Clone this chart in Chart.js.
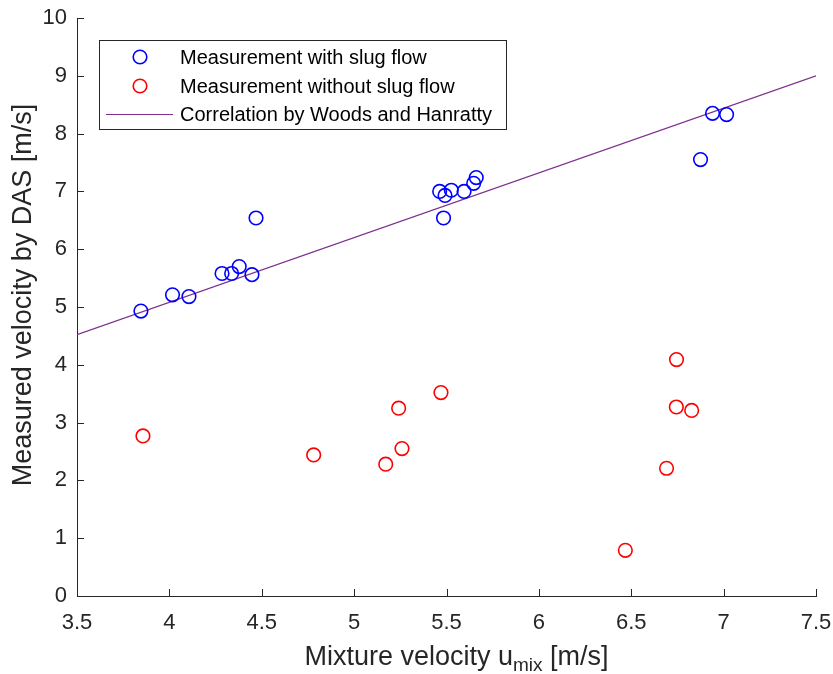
<!DOCTYPE html>
<html>
<head>
<meta charset="utf-8">
<script src="https://cdn.jsdelivr.net/npm/chart.js@4"></script>
<style>
  html, body { margin: 0; padding: 0; background: #fff; }
  #wrap { width: 833px; height: 674px; }
</style>
</head>
<body>
<div id="wrap"><canvas id="chart_velocity" width="833" height="674"></canvas></div>
<script>
// measurements with slug flow
const slugX = [3.846, 4.017, 4.106, 4.285, 4.337, 4.378, 4.447, 4.469,
               5.463, 5.492, 5.526, 5.595, 5.647, 5.661, 5.484,
               6.940, 7.016, 6.875];
const slugY = [4.93, 5.21, 5.18, 5.58, 5.58, 5.70, 5.56, 6.54,
               7.00, 6.93, 7.02, 7.00, 7.14, 7.24, 6.54,
               8.35, 8.33, 7.55];

// measurements without slug flow
const noSlugX = [3.857, 4.781, 5.171, 5.241, 5.259, 5.470, 6.745, 6.744, 6.827, 6.691, 6.468];
const noSlugY = [2.77, 2.44, 2.28, 3.25, 2.55, 3.52, 4.09, 3.27, 3.21, 2.21, 0.79];

// Woods & Hanratty correlation, end points
const corrX = [3.5, 7.5];
const corrY = [4.52, 9.0];

const xTicks = [3.5, 4, 4.5, 5, 5.5, 6, 6.5, 7, 7.5];
const yTicks = [0, 1, 2, 3, 4, 5, 6, 7, 8, 9, 10];

const axisColor = '#262626';
const fontFam = '"Liberation Sans", Arial, Helvetica, sans-serif';

function pts(xs, ys) {
    return xs.map((x, i) => ({ x: x, y: ys[i] }));
}

// inward ticks, axis titles (with subscript) and the boxed legend
const matlabLook = {
    id: 'matlabLook',
    afterDraw(chart) {
        const ctx = chart.ctx;
        const a = chart.chartArea;
        const sx = chart.scales.x, sy = chart.scales.y;
        ctx.save();
        ctx.strokeStyle = axisColor;
        ctx.lineWidth = 1;
        ctx.beginPath();
        xTicks.forEach(v => {
            const px = Math.round(sx.getPixelForValue(v)) + 0.5;
            ctx.moveTo(px, a.bottom);
            ctx.lineTo(px, a.bottom - 7);
        });
        yTicks.forEach(v => {
            const py = Math.round(sy.getPixelForValue(v)) + 0.5;
            ctx.moveTo(a.left, py);
            ctx.lineTo(a.left + 7, py);
        });
        ctx.stroke();

        // x title
        ctx.fillStyle = axisColor;
        ctx.textBaseline = 'alphabetic';
        ctx.textAlign = 'left';
        const big = '27px ' + fontFam, small = '19px ' + fontFam;
        const parts = [['Mixture velocity u', big, 0], ['mix', small, 6], [' [m/s]', big, 0]];
        let w = 0;
        parts.forEach(p => { ctx.font = p[1]; w += ctx.measureText(p[0]).width; });
        let x0 = (a.left + a.right) / 2 - w / 2 + 10;
        parts.forEach(p => {
            ctx.font = p[1];
            ctx.fillText(p[0], x0, 665 + p[2]);
            x0 += ctx.measureText(p[0]).width;
        });

        // y title
        ctx.save();
        ctx.translate(31, (a.top + a.bottom) / 2 - 12);
        ctx.rotate(-Math.PI / 2);
        ctx.textAlign = 'center';
        ctx.font = big;
        ctx.fillText('Measured velocity by DAS [m/s]', 0, 0);
        ctx.restore();

        // legend
        const box = { l: 99.5, t: 40.5, r: 506.5, b: 129.5 };
        ctx.fillStyle = '#fff';
        ctx.fillRect(box.l, box.t, box.r - box.l, box.b - box.t);
        ctx.strokeStyle = axisColor;
        ctx.strokeRect(box.l, box.t, box.r - box.l, box.b - box.t);
        const rows = [57, 86, 114];
        ctx.font = '20px ' + fontFam;
        ctx.textBaseline = 'middle';
        ctx.textAlign = 'left';
        chart.data.datasets.forEach((ds, i) => {
            const y = rows[i];
            ctx.strokeStyle = ds.borderColor;
            if (ds.type === 'line') {
                ctx.lineWidth = 1;
                ctx.beginPath();
                ctx.moveTo(106, y + 0.5);
                ctx.lineTo(173, y + 0.5);
                ctx.stroke();
            } else {
                ctx.lineWidth = ds.borderWidth;
                ctx.beginPath();
                ctx.arc(140, y, ds.pointRadius, 0, Math.PI * 2);
                ctx.stroke();
            }
            ctx.fillStyle = '#000';
            ctx.fillText(ds.label, 180, y + 1);
        });
        ctx.restore();
    }
};

const ctx = document.getElementById('chart_velocity').getContext('2d');
const myChart = new Chart(ctx, {
    type: 'scatter',
    data: {
        datasets: [{
            label: 'Measurement with slug flow',
            data: pts(slugX, slugY),
            borderColor: '#0000ff',
            backgroundColor: 'rgba(0,0,0,0)',
            pointRadius: 6.8,
            borderWidth: 1.6,
            pointHoverRadius: 6.8
        }, {
            label: 'Measurement without slug flow',
            data: pts(noSlugX, noSlugY),
            borderColor: '#ff0000',
            backgroundColor: 'rgba(0,0,0,0)',
            pointRadius: 6.8,
            borderWidth: 1.6,
            pointHoverRadius: 6.8
        }, {
            type: 'line',
            label: 'Correlation by Woods and Hanratty',
            data: pts(corrX, corrY),
            borderColor: '#7e2f8e',
            borderWidth: 1.2,
            pointRadius: 0,
            fill: false
        }]
    },
    options: {
        responsive: false,
        animation: false,
        events: [],
        layout: { padding: { left: 0, top: 18, right: 17, bottom: 0 } },
        plugins: {
            legend: { display: false },
            tooltip: { enabled: false }
        },
        scales: {
            x: {
                type: 'linear',
                min: 3.5,
                max: 7.5,
                afterFit: s => { s.height = 78; s.paddingLeft = 0; s.paddingRight = 0; },
                afterBuildTicks: s => { s.ticks = xTicks.map(v => ({ value: v })); },
                grid: { display: false, drawTicks: false },
                border: { display: true, color: axisColor, width: 1 },
                ticks: { color: axisColor, padding: 14, maxRotation: 0,
                         callback: v => String(v),
                         font: { family: fontFam, size: 22 } }
            },
            y: {
                type: 'linear',
                min: 0,
                max: 10,
                afterFit: s => { s.width = 77; s.paddingTop = 0; s.paddingBottom = 0; },
                afterBuildTicks: s => { s.ticks = yTicks.map(v => ({ value: v })); },
                grid: { display: false, drawTicks: false },
                border: { display: true, color: axisColor, width: 1 },
                ticks: { color: axisColor, padding: 10,
                         callback: v => String(v),
                         font: { family: fontFam, size: 22 } }
            }
        }
    },
    plugins: [matlabLook]
});
</script>
</body>
</html>
